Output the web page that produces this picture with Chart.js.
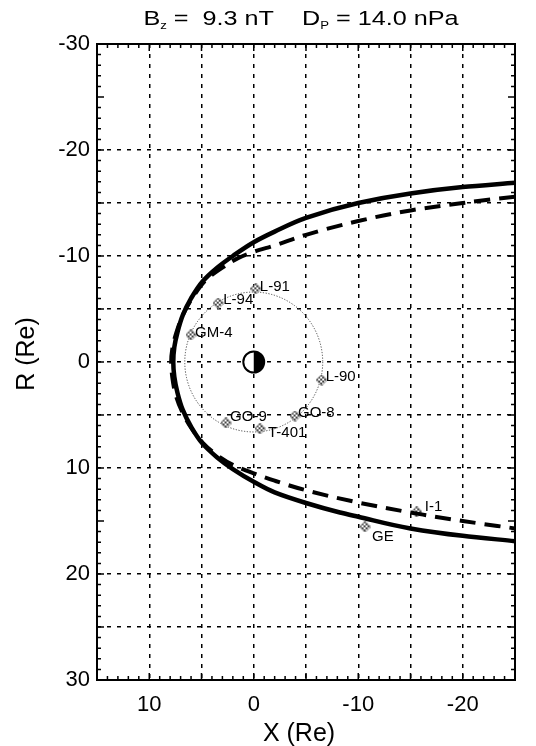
<!DOCTYPE html>
<html>
<head>
<meta charset="utf-8">
<script src="https://cdn.jsdelivr.net/npm/chart.js@4"></script>
<style>
html,body{margin:0;padding:0;background:#fff;}
canvas{display:block;}
</style>
</head>
<body>
<canvas id="c" width="536" height="746"></canvas>
<script>
// ---------------- data ----------------
const X_RANGE = [-25, 15];     // X (Re), drawn reversed
const R_RANGE = [-30, 30];     // R (Re), drawn reversed
const GRID_STEP = 5;
const LABEL_STEP = 10;

// Magnetopause, solid model (X, R)
const solidX = [-25, -20, -15, -10, -5, -2, 0, 2, 3.5, 4.9, 6.0, 6.8, 7.3, 7.6, 7.7, 7.6, 7.3, 6.8, 6.0, 4.9, 3.5, 2, 0, -2, -5, -8.25, -10, -15, -20, -25];
const solidR = [-16.9, -16.5, -15.9, -15.0, -13.6, -12.3, -11.3, -10.0, -8.9, -7.6, -6.0, -4.4, -2.8, -1.4, 0, 1.4, 2.9, 4.5, 6.1, 7.7, 9.0, 10.1, 11.3, 12.3, 13.3, 14.2, 14.6, 15.7, 16.4, 16.9];

// Magnetopause, dashed model (X, R)
const dashX = [-25, -20, -15, -10, -5, -2, 0, 1.5, 3.0, 4.5, 5.7, 6.7, 7.4, 7.8, 7.9, 7.8, 7.5, 6.9, 6.0, 4.9, 3.5, 2.0, 0, -2, -5, -10.2, -16.2, -20, -25];
const dashR = [-15.6, -15.0, -14.3, -13.3, -12.0, -11.0, -10.4, -9.8, -8.9, -7.8, -6.3, -4.6, -2.8, -1.2, 0, 1.4, 3.0, 4.6, 6.2, 7.6, 8.8, 9.7, 10.5, 11.2, 12.1, 13.3, 14.4, 15.0, 15.7];

// Spacecraft positions
const craftNames = ['L-91', 'L-94', 'GM-4', 'L-90', 'GO-8', 'GO-9', 'T-401', 'I-1', 'GE'];
const craftX = [-0.2, 3.4, 6.0, -6.5, -3.95, 2.65, -0.6, -15.6, -10.65];
const craftR = [-6.9, -5.55, -2.55, 1.7, 5.1, 5.75, 6.3, 14.15, 15.55];

const ORBIT_RADIUS = 6.6;   // geosynchronous orbit (Re)
const EARTH_RADIUS = 1;     // Re

const TITLE_BZ = '9.3';
const TITLE_DP = '14.0';

// ---------------- style (not data) ----------------
const LABEL_OFFSETS = {
  'L-91': [4, -2], 'L-94': [5, -3], 'GM-4': [4, -2], 'L-90': [4, -3],
  'GO-8': [3, -3], 'GO-9': [4, -6], 'T-401': [8, 4], 'I-1': [8, -5], 'GE': [7, 10]
};
const FONT = '"Liberation Sans", Arial, Helvetica, sans-serif';

function pts(xs, ys) { return xs.map((x, i) => ({x: x, y: ys[i]})); }

// checkered diamond marker
function makeMarker() {
  const s = 11, c = document.createElement('canvas');
  c.width = s; c.height = s;
  const g = c.getContext('2d');
  g.beginPath();
  g.moveTo(s/2, 0); g.lineTo(s, s/2); g.lineTo(s/2, s); g.lineTo(0, s/2); g.closePath();
  g.save(); g.clip();
  for (let i = 0; i < s; i += 2) for (let j = 0; j < s; j += 2) {
    g.fillStyle = ((i + j) / 2) % 2 ? '#fff' : '#444';
    g.fillRect(i, j, 2, 2);
  }
  g.restore();
  g.strokeStyle = '#666'; g.lineWidth = 0.8; g.stroke();
  return c;
}
const marker = makeMarker();

const decorations = {
  id: 'decorations',
  beforeDatasetsDraw(chart) {
    const {ctx, scales: {x, y}} = chart;
    ctx.save();
    // orbit circle
    const cx = x.getPixelForValue(0), cy = y.getPixelForValue(0);
    const rx = Math.abs(x.getPixelForValue(ORBIT_RADIUS) - cx);
    const ry = Math.abs(y.getPixelForValue(ORBIT_RADIUS) - cy);
    ctx.beginPath();
    ctx.ellipse(cx, cy, rx, ry, 0, 0, Math.PI * 2);
    ctx.setLineDash([1.2, 1.6]);
    ctx.lineWidth = 1;
    ctx.strokeStyle = '#444';
    ctx.stroke();
    ctx.setLineDash([]);
    // Earth
    const ex = Math.abs(x.getPixelForValue(EARTH_RADIUS) - cx);
    const ey = Math.abs(y.getPixelForValue(EARTH_RADIUS) - cy);
    ctx.beginPath();
    ctx.ellipse(cx, cy, ex, ey, 0, 0, Math.PI * 2);
    ctx.fillStyle = '#fff'; ctx.fill();
    ctx.beginPath();
    ctx.ellipse(cx, cy, ex, ey, 0, -Math.PI / 2, Math.PI / 2);
    ctx.closePath();
    ctx.fillStyle = '#000'; ctx.fill();
    ctx.beginPath();
    ctx.ellipse(cx, cy, ex, ey, 0, 0, Math.PI * 2);
    ctx.lineWidth = 2; ctx.strokeStyle = '#000'; ctx.stroke();
    ctx.restore();
  },
  afterDraw(chart) {
    const {ctx, chartArea: a, scales: {x, y}} = chart;
    ctx.save();
    // frame
    ctx.strokeStyle = '#000';
    ctx.lineWidth = 2;
    ctx.strokeRect(a.left, a.top, a.right - a.left, a.bottom - a.top);
    // inward ticks
    ctx.lineWidth = 1.5;
    ctx.beginPath();
    for (let v = X_RANGE[0] + 1; v < X_RANGE[1]; v++) {
      const p = x.getPixelForValue(v), len = v % GRID_STEP === 0 ? 7 : 4;
      ctx.moveTo(p, a.bottom); ctx.lineTo(p, a.bottom - len);
      ctx.moveTo(p, a.top); ctx.lineTo(p, a.top + len);
    }
    for (let v = R_RANGE[0] + 1; v < R_RANGE[1]; v++) {
      const p = y.getPixelForValue(v), len = v % GRID_STEP === 0 ? 7 : 4;
      ctx.moveTo(a.left, p); ctx.lineTo(a.left + len, p);
      ctx.moveTo(a.right, p); ctx.lineTo(a.right - len, p);
    }
    ctx.stroke();
    // spacecraft labels
    ctx.fillStyle = '#000';
    ctx.font = '15px ' + FONT;
    ctx.textBaseline = 'middle';
    ctx.textAlign = 'left';
    craftNames.forEach((n, i) => {
      const o = LABEL_OFFSETS[n] || [4, 0];
      ctx.fillText(n, x.getPixelForValue(craftX[i]) + o[0], y.getPixelForValue(craftR[i]) + o[1]);
    });
    // axis titles
    ctx.font = '25px ' + FONT;
    ctx.textAlign = 'center';
    ctx.textBaseline = 'alphabetic';
    ctx.fillText('X (Re)', 299, 741);
    ctx.save();
    ctx.translate(34, 354);
    ctx.rotate(-Math.PI / 2);
    ctx.fillText('R (Re)', 0, 0);
    ctx.restore();
    // title with subscripts (slightly stretched horizontally as in the original)
    const big = '21px ' + FONT, small = '11px ' + FONT;
    const parts = [
      ['B', big, 0], ['z', small, 4], [' =  ' + TITLE_BZ + ' nT    D', big, 0],
      ['P', small, 4], [' = ' + TITLE_DP + ' nPa', big, 0]
    ];
    const sx = 1.2;
    let w = 0;
    parts.forEach(p => { ctx.font = p[1]; w += ctx.measureText(p[0]).width; });
    ctx.save();
    ctx.translate(301 - w * sx / 2, 25);
    ctx.scale(sx, 1);
    let tx = 0;
    ctx.textAlign = 'left';
    parts.forEach(p => { ctx.font = p[1]; ctx.fillText(p[0], tx, p[2]); tx += ctx.measureText(p[0]).width; });
    ctx.restore();
    ctx.restore();
  }
};

function gridColor(ctx) {
  const v = ctx.tick ? ctx.tick.value : null;
  return (v === X_RANGE[0] || v === X_RANGE[1] || v === R_RANGE[0] || v === R_RANGE[1]) ? 'rgba(0,0,0,0)' : '#000';
}

new Chart(document.getElementById('c'), {
  type: 'scatter',
  data: {
    datasets: [
      { type: 'line', indexAxis: 'y', label: 'solid', data: pts(solidX, solidR), borderColor: '#000', borderWidth: 4.5,
        pointRadius: 0, cubicInterpolationMode: 'monotone', fill: false },
      { type: 'line', indexAxis: 'y', label: 'dashed', data: pts(dashX, dashR), borderColor: '#000', borderWidth: 4,
        borderDash: [16, 9], pointRadius: 0, cubicInterpolationMode: 'monotone', fill: false },
      { label: 'craft', data: pts(craftX, craftR), showLine: false, pointStyle: marker, pointRadius: 5 }
    ]
  },
  options: {
    responsive: false,
    animation: false,
    devicePixelRatio: 1,
    layout: { padding: { top: 44, right: 21, bottom: 0, left: 0 } },
    plugins: { legend: { display: false }, tooltip: { enabled: false }, title: { display: false } },
    scales: {
      x: {
        type: 'linear', reverse: true, min: X_RANGE[0], max: X_RANGE[1],
        afterFit(s) { s.height = 66; },
        border: { display: false, dash: [4, 6] },
        grid: { color: gridColor, lineWidth: 1.5, drawTicks: false },
        ticks: { stepSize: GRID_STEP, autoSkip: false, maxRotation: 0, padding: 12, color: '#000',
          font: { family: FONT, size: 22 },
          callback: v => (v % LABEL_STEP === 0 ? String(v) : '') }
      },
      y: {
        type: 'linear', reverse: true, min: R_RANGE[0], max: R_RANGE[1],
        afterFit(s) { s.width = 97; },
        border: { display: false, dash: [4, 6] },
        grid: { color: gridColor, lineWidth: 1.5, drawTicks: false },
        ticks: { stepSize: GRID_STEP, autoSkip: false, padding: 7, color: '#000',
          font: { family: FONT, size: 22 },
          callback: v => (v % LABEL_STEP === 0 ? String(v) : '') }
      }
    }
  },
  plugins: [decorations]
});
</script>
</body>
</html>
